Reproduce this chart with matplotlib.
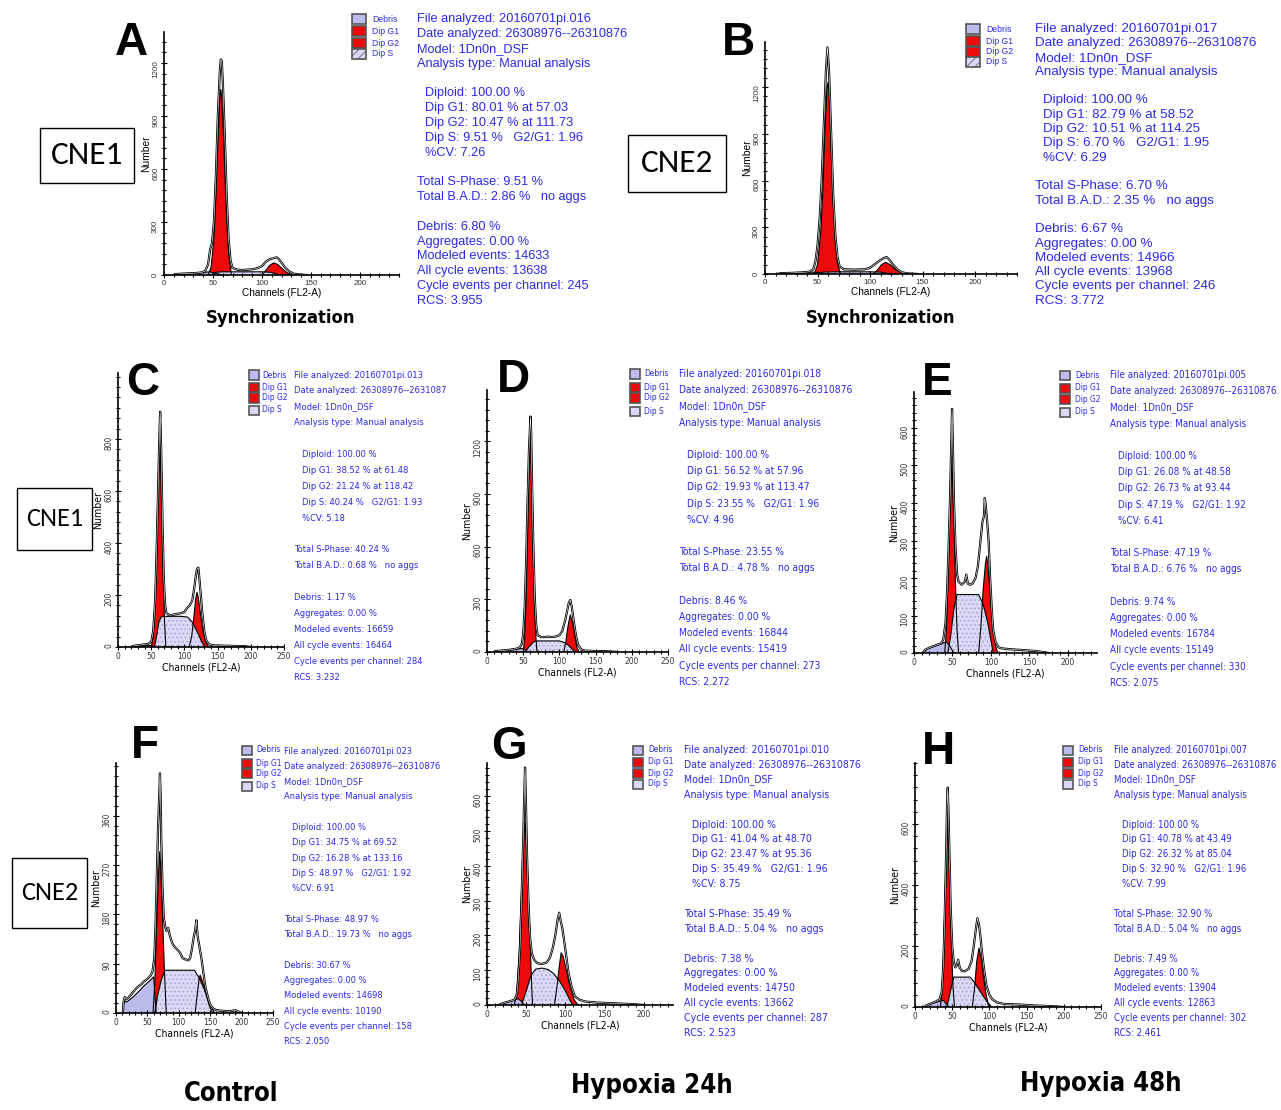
import matplotlib
matplotlib.use("Agg")
import matplotlib.pyplot as plt
from matplotlib.patches import Rectangle
from matplotlib.ticker import MultipleLocator, FixedLocator
from matplotlib import font_manager
from matplotlib.font_manager import FontProperties

W, H = 1281, 1110

# --- Histogram data: (channel, count) ---
# A: CNE1 synchronization
A_ENV = [(10, 0), (12, 5), (20, 8), (30, 10), (38, 14), (42, 22), (45, 60), (47, 140), (49, 180), (51, 300),
         (53, 560), (55, 900), (57, 1150), (58, 1220), (59, 1210), (60, 1100), (62, 800), (64, 450), (66, 200),
         (68, 80), (70, 40), (75, 30), (80, 28), (85, 30), (90, 32), (95, 38), (100, 50), (104, 75), (108, 90),
         (112, 95), (115, 100), (117, 92), (120, 70), (124, 40), (128, 20), (132, 8), (138, 3), (145, 0)]
A_G1 = [(45, 0), (48, 40), (51, 200), (53, 450), (55, 750), (57, 1000), (58, 1050), (59, 1000), (61, 760),
        (63, 450), (65, 200), (67, 70), (69, 0)]
A_G2 = [(100, 0), (104, 25), (108, 55), (112, 68), (116, 60), (120, 40), (125, 15), (131, 0)]
A_S = [(48, 0), (52, 15), (60, 18), (80, 18), (100, 18), (110, 15), (118, 0)]
A_DEB = [(12, 0), (20, 6), (30, 10), (40, 15), (47, 18), (52, 10), (60, 0)]

# B: CNE2 synchronization
B_ENV = [(12, 0), (15, 5), (25, 7), (35, 10), (42, 14), (46, 30), (48, 80), (50, 180), (52, 350), (54, 600),
         (56, 950), (58, 1300), (59.5, 1455), (61, 1300), (63, 900), (65, 500), (67, 250), (69, 110), (71, 50),
         (75, 30), (85, 28), (95, 30), (100, 40), (105, 65), (110, 90), (114, 105), (116, 108), (118, 95),
         (122, 60), (126, 30), (130, 12), (135, 4), (145, 0)]
B_G1 = [(47, 0), (50, 60), (53, 260), (55, 520), (57, 900), (59, 1200), (60, 1230), (61, 1150), (63, 800),
        (65, 450), (67, 200), (69, 70), (72, 0)]
B_G2 = [(103, 0), (107, 25), (111, 60), (115, 75), (119, 60), (124, 30), (129, 10), (134, 0)]
B_S = [(50, 0), (55, 12), (70, 14), (100, 14), (110, 12), (120, 0)]
B_DEB = [(14, 0), (25, 5), (35, 8), (45, 12), (50, 10), (56, 0)]

# C: CNE1 control
C_ENV = [(20, 0), (25, 5), (35, 8), (45, 12), (50, 20), (53, 60), (56, 180), (58, 350), (60, 560), (62, 780),
         (63.5, 905), (65, 760), (67, 480), (69, 260), (71, 160), (73, 130), (78, 122), (85, 125), (90, 128),
         (95, 130), (100, 135), (104, 150), (108, 160), (112, 180), (115, 230), (117, 270), (119, 300),
         (121, 305), (123, 250), (125, 190), (127, 130), (130, 60), (133, 25), (137, 10), (145, 6), (160, 5),
         (175, 4), (190, 3), (200, 0)]
C_G1 = [(50, 0), (53, 40), (56, 180), (58, 370), (60, 580), (62, 740), (63, 780), (64, 720), (66, 500),
        (68, 270), (70, 100), (72, 0)]
C_G2 = [(107, 0), (111, 40), (114, 110), (117, 185), (119, 210), (121, 190), (124, 130), (128, 60),
        (132, 20), (136, 0)]
C_S = [(55, 0), (58, 40), (62, 100), (66, 118), (80, 118), (95, 118), (105, 115), (112, 95), (120, 55),
       (126, 20), (131, 0)]
C_DEB = [(20, 0), (30, 3), (40, 5), (50, 6), (55, 0)]

# D: CNE1 hypoxia 24h
D_ENV = [(10, 0), (12, 5), (20, 8), (30, 12), (40, 18), (45, 25), (48, 45), (50, 100), (52, 250), (54, 500),
         (56, 850), (58, 1150), (60, 1340), (61, 1250), (62, 1000), (64, 600), (66, 300), (68, 150), (70, 95),
         (75, 85), (80, 85), (85, 87), (90, 85), (95, 88), (100, 95), (104, 120), (108, 180), (111, 240),
         (113, 280), (115, 296), (117, 260), (120, 170), (123, 90), (126, 40), (130, 15), (135, 8), (150, 5),
         (165, 4), (180, 0)]
D_G1 = [(50, 0), (52, 80), (54, 300), (56, 650), (58, 1050), (59.5, 1300), (61, 1100), (63, 700), (65, 330),
        (67, 120), (69, 0)]
D_G2 = [(106, 0), (109, 60), (112, 150), (115, 211), (118, 170), (121, 100), (124, 30), (127, 0)]
D_S = [(53, 0), (58, 30), (65, 60), (70, 63), (90, 63), (100, 63), (106, 55), (112, 40), (118, 15), (122, 0)]
D_DEB = [(10, 0), (20, 6), (30, 10), (40, 15), (48, 20), (52, 15), (56, 0)]

# E: CNE1 hypoxia 48h
E_ENV = [(12, 0), (14, 8), (20, 14), (25, 18), (30, 22), (35, 25), (38, 35), (41, 80), (43, 160), (45, 280),
         (47, 420), (48.5, 560), (49.5, 651), (50.5, 560), (52, 400), (54, 280), (56, 210), (58, 190),
         (62, 182), (66, 190), (68, 209), (70, 185), (73, 182), (76, 185), (80, 200), (83, 230), (86, 290),
         (89, 350), (91, 365), (92, 413), (93, 400), (95, 355), (97, 300), (99, 200), (101, 120), (103, 60),
         (106, 30), (110, 15), (115, 12), (125, 10), (140, 8), (160, 5), (175, 0)]
E_G1 = [(40, 0), (42, 60), (44, 180), (46, 330), (48, 470), (49, 500), (50, 470), (52, 330), (54, 180),
        (56, 60), (58, 0)]
E_G2 = [(84, 0), (87, 70), (90, 170), (93, 240), (94.5, 258), (96, 235), (99, 160), (102, 80), (106, 20),
        (109, 0)]
E_S = [(44, 0), (48, 50), (52, 120), (56, 156), (70, 156), (84, 156), (90, 130), (96, 80), (100, 35), (103, 0)]
E_DEB = [(13, 0), (16, 10), (25, 17), (35, 24), (42, 30), (46, 20), (52, 0)]

# F: CNE2 control
F_ENV = [(11, 0), (12, 20), (14, 29), (16, 25), (20, 28), (25, 35), (30, 42), (35, 48), (40, 52), (45, 58),
         (50, 62), (55, 68), (58, 75), (61, 100), (63, 160), (65, 250), (67, 340), (69, 400), (70, 437),
         (71, 400), (72, 320), (74, 230), (76, 175), (78, 160), (80, 150), (83, 155), (86, 140), (90, 126),
         (94, 120), (98, 115), (102, 110), (106, 100), (110, 98), (115, 96), (118, 100), (121, 118), (124, 140),
         (126, 150), (128, 169), (130, 140), (133, 120), (136, 100), (139, 75), (142, 50), (146, 30), (150, 15),
         (155, 8), (160, 5), (170, 4), (180, 3), (190, 5), (200, 0)]
F_G1 = [(59, 0), (62, 60), (65, 170), (68, 260), (69.5, 294), (71, 270), (74, 180), (77, 80), (80, 0)]
F_G2 = [(126, 0), (129, 30), (132, 60), (134, 69), (137, 60), (142, 40), (148, 15), (154, 0)]
F_S = [(62, 0), (66, 30), (72, 60), (78, 78), (100, 78), (125, 78), (132, 65), (140, 45), (148, 20), (157, 0)]
F_DEB = [(11, 0), (12, 15), (14, 22), (17, 20), (25, 27), (35, 38), (45, 50), (55, 60), (60, 66), (64, 0)]

# G: CNE2 hypoxia 24h
G_ENV = [(15, 0), (20, 5), (28, 10), (35, 15), (38, 30), (40, 80), (42, 160), (44, 300), (46, 460),
         (47.5, 600), (48.5, 682), (49.5, 590), (51, 430), (53, 280), (55, 190), (57, 150), (60, 130), (64, 120),
         (70, 118), (76, 122), (80, 135), (84, 165), (87, 200), (90, 245), (92, 265), (94, 240), (96, 220),
         (98, 190), (101, 140), (104, 90), (108, 50), (112, 25), (118, 15), (125, 10), (140, 7), (160, 5),
         (180, 3), (200, 0)]
G_G1 = [(35, 0), (38, 40), (41, 150), (44, 330), (47, 480), (48.5, 525), (50, 470), (53, 300), (55, 170),
        (57, 50), (58, 0)]
G_G2 = [(86, 0), (89, 50), (92, 110), (94.5, 150), (97, 140), (101, 100), (106, 50), (111, 15), (116, 0)]
G_S = [(44, 0), (50, 40), (56, 85), (62, 103), (70, 106), (78, 102), (85, 90), (92, 70), (100, 40), (106, 12),
       (109, 0)]
G_DEB = [(15, 0), (20, 5), (28, 10), (35, 15), (40, 18), (44, 10), (48, 0)]

# H: CNE2 hypoxia 48h
H_ENV = [(12, 0), (15, 5), (22, 12), (28, 18), (33, 25), (36, 50), (38, 130), (40, 300), (42, 520), (43, 650),
         (44, 719), (45, 640), (46.5, 480), (48, 320), (50, 200), (52, 150), (54, 130), (56, 135), (58, 155),
         (60, 130), (63, 118), (67, 117), (72, 125), (76, 150), (79, 200), (82, 260), (84, 291), (86, 270),
         (88, 230), (90, 180), (93, 120), (96, 70), (100, 40), (104, 25), (110, 15), (120, 10), (140, 8),
         (160, 5), (180, 3), (200, 0)]
H_G1 = [(34, 0), (36, 40), (38, 150), (40, 330), (42, 500), (43.5, 585), (45, 530), (47, 360), (49, 200),
        (51, 70), (53, 0)]
H_G2 = [(77, 0), (80, 60), (83, 150), (86, 193), (89, 160), (92, 100), (95, 50), (99, 0)]
H_S = [(43, 0), (47, 45), (52, 98), (60, 98), (74, 98), (80, 80), (88, 50), (96, 20), (103, 0)]
H_DEB = [(12, 0), (18, 8), (25, 13), (32, 18), (38, 22), (42, 10), (46, 0)]

# --- ModFit report text ---
A_STATS = ["File analyzed: 20160701pi.016", "Date analyzed: 26308976--26310876", "Model: 1Dn0n_DSF",
           "Analysis type: Manual analysis", "", "Diploid: 100.00 %", "Dip G1: 80.01 % at 57.03",
           "Dip G2: 10.47 % at 111.73", "Dip S: 9.51 %   G2/G1: 1.96", "%CV: 7.26", "",
           "Total S-Phase: 9.51 %", "Total B.A.D.: 2.86 %   no aggs", "", "Debris: 6.80 %",
           "Aggregates: 0.00 %", "Modeled events: 14633", "All cycle events: 13638",
           "Cycle events per channel: 245", "RCS: 3.955"]
B_STATS = ["File analyzed: 20160701pi.017", "Date analyzed: 26308976--26310876", "Model: 1Dn0n_DSF",
           "Analysis type: Manual analysis", "", "Diploid: 100.00 %", "Dip G1: 82.79 % at 58.52",
           "Dip G2: 10.51 % at 114.25", "Dip S: 6.70 %   G2/G1: 1.95", "%CV: 6.29", "",
           "Total S-Phase: 6.70 %", "Total B.A.D.: 2.35 %   no aggs", "", "Debris: 6.67 %",
           "Aggregates: 0.00 %", "Modeled events: 14966", "All cycle events: 13968",
           "Cycle events per channel: 246", "RCS: 3.772"]
C_STATS = ["File analyzed: 20160701pi.013", "Date analyzed: 26308976--2631087", "Model: 1Dn0n_DSF",
           "Analysis type: Manual analysis", "", "Diploid: 100.00 %", "Dip G1: 38.52 % at 61.48",
           "Dip G2: 21.24 % at 118.42", "Dip S: 40.24 %   G2/G1: 1.93", "%CV: 5.18", "",
           "Total S-Phase: 40.24 %", "Total B.A.D.: 0.68 %   no aggs", "", "Debris: 1.17 %",
           "Aggregates: 0.00 %", "Modeled events: 16659", "All cycle events: 16464",
           "Cycle events per channel: 284", "RCS: 3.232"]
D_STATS = ["File analyzed: 20160701pi.018", "Date analyzed: 26308976--26310876", "Model: 1Dn0n_DSF",
           "Analysis type: Manual analysis", "", "Diploid: 100.00 %", "Dip G1: 56.52 % at 57.96",
           "Dip G2: 19.93 % at 113.47", "Dip S: 23.55 %   G2/G1: 1.96", "%CV: 4.96", "",
           "Total S-Phase: 23.55 %", "Total B.A.D.: 4.78 %   no aggs", "", "Debris: 8.46 %",
           "Aggregates: 0.00 %", "Modeled events: 16844", "All cycle events: 15419",
           "Cycle events per channel: 273", "RCS: 2.272"]
E_STATS = ["File analyzed: 20160701pi.005", "Date analyzed: 26308976--26310876", "Model: 1Dn0n_DSF",
           "Analysis type: Manual analysis", "", "Diploid: 100.00 %", "Dip G1: 26.08 % at 48.58",
           "Dip G2: 26.73 % at 93.44", "Dip S: 47.19 %   G2/G1: 1.92", "%CV: 6.41", "",
           "Total S-Phase: 47.19 %", "Total B.A.D.: 6.76 %   no aggs", "", "Debris: 9.74 %",
           "Aggregates: 0.00 %", "Modeled events: 16784", "All cycle events: 15149",
           "Cycle events per channel: 330", "RCS: 2.075"]
F_STATS = ["File analyzed: 20160701pi.023", "Date analyzed: 26308976--26310876", "Model: 1Dn0n_DSF",
           "Analysis type: Manual analysis", "", "Diploid: 100.00 %", "Dip G1: 34.75 % at 69.52",
           "Dip G2: 16.28 % at 133.16", "Dip S: 48.97 %   G2/G1: 1.92", "%CV: 6.91", "",
           "Total S-Phase: 48.97 %", "Total B.A.D.: 19.73 %   no aggs", "", "Debris: 30.67 %",
           "Aggregates: 0.00 %", "Modeled events: 14698", "All cycle events: 10190",
           "Cycle events per channel: 158", "RCS: 2.050"]
G_STATS = ["File analyzed: 20160701pi.010", "Date analyzed: 26308976--26310876", "Model: 1Dn0n_DSF",
           "Analysis type: Manual analysis", "", "Diploid: 100.00 %", "Dip G1: 41.04 % at 48.70",
           "Dip G2: 23.47 % at 95.36", "Dip S: 35.49 %   G2/G1: 1.96", "%CV: 8.75", "",
           "Total S-Phase: 35.49 %", "Total B.A.D.: 5.04 %   no aggs", "", "Debris: 7.38 %",
           "Aggregates: 0.00 %", "Modeled events: 14750", "All cycle events: 13662",
           "Cycle events per channel: 287", "RCS: 2.523"]
H_STATS = ["File analyzed: 20160701pi.007", "Date analyzed: 26308976--26310876", "Model: 1Dn0n_DSF",
           "Analysis type: Manual analysis", "", "Diploid: 100.00 %", "Dip G1: 40.78 % at 43.49",
           "Dip G2: 26.32 % at 85.04", "Dip S: 32.90 %   G2/G1: 1.96", "%CV: 7.99", "",
           "Total S-Phase: 32.90 %", "Total B.A.D.: 5.04 %   no aggs", "", "Debris: 7.49 %",
           "Aggregates: 0.00 %", "Modeled events: 13904", "All cycle events: 12863",
           "Cycle events per channel: 302", "RCS: 2.461"]

LEGEND_LABELS = ["Debris", "Dip G1", "Dip G2", "Dip S"]
Y_TICKS = {"A": [0, 300, 600, 900, 1200], "B": [0, 300, 600, 900, 1200], "C": [0, 200, 400, 600, 800],
           "D": [0, 300, 600, 900, 1200], "E": [0, 100, 200, 300, 400, 500, 600], "F": [0, 90, 180, 270, 360],
           "G": [0, 100, 200, 300, 400, 500, 600], "H": [0, 200, 400, 600]}

# colours
RED = "#ee0a0a"
DEBRIS = "#bcbcec"
SPHASE = "#d9d9f5"
BLUE = "#2a2ae8"


def condensed_font(bold):
    # look for an installed narrow / condensed face, otherwise fall back to Liberation Sans
    want = 700 if bold else 400
    best, best_score = None, None
    for f in font_manager.fontManager.ttflist:
        st = f.stretch if isinstance(f.stretch, int) else font_manager.stretch_dict.get(f.stretch, 500)
        wt = f.weight if isinstance(f.weight, int) else font_manager.weight_dict.get(f.weight, 400)
        name = f.name.lower()
        if "narrow" in name or "condensed" in name:
            st = min(st, 300)
        if st >= 500 or f.style != "normal" or abs(wt - want) > 100 or "mono" in name or "cjk" in name:
            continue
        score = abs(st - 300) + abs(wt - want) / 10 + (0 if "liberation" in name else 5)
        if best_score is None or score < best_score:
            best, best_score = f.fname, score
    return best


NARROW_FILE = condensed_font(False)
NARROW_BOLD_FILE = condensed_font(True)
ARIAL = "Liberation Sans"
CALIBRI = "Carlito" if any(f.name == "Carlito" for f in font_manager.fontManager.ttflist) else "Lato"


def narrow(size, bold=False):
    path = NARROW_BOLD_FILE if bold else NARROW_FILE
    if path:
        return FontProperties(fname=path, size=size)
    return FontProperties(family=ARIAL, size=size, weight="bold" if bold else "normal")


def regular(size):
    return FontProperties(family=ARIAL, size=size)


# layout in pixels: axis box, limits, report text position (+ width of the
# "Cycle events per channel" line), legend position, panel letter
LAYOUT = {
    "A": dict(x0=164, xe=399, yb=275, yt=32, xmax=240, ymax=1375, ymin=60, tx=417, ty=19, dy=14.84,
              ts=9.2, tw=None, nar=False, bx=352, lx=372, ly=[19, 31, 43, 54], lab=(131, 43), ls=6.2, tick=5.8),
    "B": dict(x0=765, xe=1017, yb=274, yt=42, xmax=240, ymax=1490, ymin=60, tx=1035, ty=29, dy=14.3,
              ts=9.6, tw=None, nar=False, bx=966, lx=986, ly=[29, 41, 52, 62], lab=(738, 43), ls=6.2, tick=5.8),
    "C": dict(x0=118, xe=284, yb=647, yt=373, xmax=250, ymax=1054, ymin=40, tx=294, ty=375, dy=15.9,
              ts=7.8, tw=130, nar=True, bx=249, lx=262, ly=[375, 387, 398, 410], lab=(143, 383), ls=6.0, tick=6.0),
    "D": dict(x0=487, xe=668, yb=652, yt=390, xmax=250, ymax=1491, ymin=60, tx=679, ty=374, dy=16.2,
              ts=8.5, tw=142, nar=True, bx=630, lx=644, ly=[374, 387, 398, 411], lab=(513, 380), ls=6.0, tick=6.0),
    "E": dict(x0=914, xe=1097, yb=653, yt=392, xmax=238, ymax=696, ymin=20, tx=1110, ty=375, dy=16.2,
              ts=8.7, tw=136, nar=True, bx=1060, lx=1075, ly=[376, 388, 400, 412], lab=(937, 383), ls=6.0,
              tick=6.0),
    "F": dict(x0=116, xe=273, yb=1013, yt=763, xmax=250, ymax=456, ymin=18, tx=284, ty=751, dy=15.3,
              ts=7.6, tw=126, nar=True, bx=242, lx=256, ly=[750, 763, 773, 786], lab=(145, 746), ls=6.0, tick=6.0),
    "G": dict(x0=487, xe=673, yb=1005, yt=763, xmax=237, ymax=695, ymin=20, tx=684, ty=750, dy=14.9,
              ts=8.7, tw=145, nar=True, bx=633, lx=648, ly=[750, 762, 773, 784], lab=(509, 747), ls=6.0, tick=6.0),
    "H": dict(x0=915, xe=1101, yb=1007, yt=763, xmax=250, ymax=800, ymin=40, tx=1114, ty=750, dy=14.9,
              ts=8.9, tw=132, nar=True, bx=1063, lx=1078, ly=[750, 762, 773, 784], lab=(938, 752), ls=6.0,
              tick=6.0),
}

PANELS = [("A", A_ENV, A_G1, A_G2, A_S, A_DEB, A_STATS), ("B", B_ENV, B_G1, B_G2, B_S, B_DEB, B_STATS),
          ("C", C_ENV, C_G1, C_G2, C_S, C_DEB, C_STATS), ("D", D_ENV, D_G1, D_G2, D_S, D_DEB, D_STATS),
          ("E", E_ENV, E_G1, E_G2, E_S, E_DEB, E_STATS), ("F", F_ENV, F_G1, F_G2, F_S, F_DEB, F_STATS),
          ("G", G_ENV, G_G1, G_G2, G_S, G_DEB, G_STATS), ("H", H_ENV, H_G1, H_G2, H_S, H_DEB, H_STATS)]

plt.rcParams["hatch.linewidth"] = 0.5
fig = plt.figure(figsize=(W / 100, H / 100), dpi=100)
renderer = fig.canvas.get_renderer()


def fx(x):
    return x / W


def fy(y):
    return 1 - y / H


def xy(points):
    return [p[0] for p in points], [p[1] for p in points]


def fit_width(t, target):
    # scale a text so that it is as wide as in the reference
    w = t.get_window_extent(renderer).width
    t.set_fontsize(t.get_fontsize() * target / w)
    return t.get_fontsize()


def shape(ax, points, fc, hatch=None):
    xs, ys = xy(points)
    ax.fill(xs, ys, facecolor=fc, edgecolor="#9c9cd4" if hatch else fc, hatch=hatch, lw=0)
    ax.plot(xs, ys, color="black", lw=0.8)


for key, env, g1, g2, s, deb, stats in PANELS:
    L = LAYOUT[key]
    font = narrow if L["nar"] else regular
    ax = fig.add_axes([fx(L["x0"]), fy(L["yb"]), (L["xe"] - L["x0"]) / W, (L["yb"] - L["yt"]) / H])
    ax.set_xlim(0, L["xmax"])
    ax.set_ylim(0, L["ymax"])
    ax.patch.set_alpha(0)

    # red peaks first, debris and S-phase on top, measured histogram last
    shape(ax, g1, RED)
    shape(ax, g2, RED)
    shape(ax, deb, DEBRIS)
    shape(ax, s, SPHASE, hatch="////" if key in "AB" else "....")
    ex, ey = xy(env)
    ax.plot(ex, ey, color="black", lw=1.6)
    ax.plot(ex, ey, color="white", lw=0.4)

    for sp in ["top", "right"]:
        ax.spines[sp].set_visible(False)
    for sp in ["left", "bottom"]:
        ax.spines[sp].set_linewidth(1.2)
    ax.xaxis.set_major_locator(MultipleLocator(50))
    ax.xaxis.set_minor_locator(MultipleLocator(10))
    ax.yaxis.set_major_locator(FixedLocator(Y_TICKS[key]))
    ax.yaxis.set_minor_locator(MultipleLocator(L["ymin"]))
    ax.tick_params(which="both", direction="inout", width=0.8, pad=1, labelcolor="#333333")
    ax.tick_params(which="major", length=5)
    ax.tick_params(which="minor", length=3)
    ax.tick_params(axis="y", labelrotation=90)
    for lab in ax.get_xticklabels() + ax.get_yticklabels():
        lab.set_fontproperties(font(L["tick"]))
    ax.set_xlabel("Channels (FL2-A)", fontproperties=font(L["tick"] + 1.4), labelpad=1)
    ax.set_ylabel("Number", fontproperties=font(L["tick"] + 1.6), labelpad=1)

    # report text, sized from the width of the "Cycle events per channel" line
    size = L["ts"]
    if L["tw"]:
        probe = fig.text(0, 0, stats[18], fontproperties=font(size))
        size = fit_width(probe, L["tw"])
        probe.remove()
    for i, line in enumerate(stats):
        if not line:
            continue
        indent = 8 if line.startswith(("Dip", "%CV")) else 0
        fig.text(fx(L["tx"] + indent), fy(L["ty"] + i * L["dy"]), line, fontproperties=font(size),
                 color=BLUE, ha="left", va="center")

    # legend boxes
    fills = [DEBRIS, RED, RED, SPHASE]
    for j, (label, yy) in enumerate(zip(LEGEND_LABELS, L["ly"])):
        bw, bh = (14, 9) if key in "AB" else (10, 9)
        fig.add_artist(Rectangle((fx(L["bx"]), fy(yy + bh / 2)), bw / W, bh / H, transform=fig.transFigure,
                                 facecolor=fills[j], edgecolor="#555555", lw=1.2,
                                 hatch="////" if (j == 3 and key in "AB") else None))
        fig.text(fx(L["lx"]), fy(yy), label, fontproperties=font(L["ls"]), color=BLUE, ha="left", va="center")

    fig.text(fx(L["lab"][0]), fy(L["lab"][1]), key, fontsize=33, fontweight="bold", family=ARIAL,
             ha="center", va="center")

# cell line boxes
for label, (x1, y1, x2, y2), size in [("CNE1", (40, 128, 134, 183), 24), ("CNE2", (628, 135, 726, 192), 24),
                                      ("CNE1", (17, 488, 92, 550), 19), ("CNE2", (12, 858, 87, 928), 19)]:
    fig.add_artist(Rectangle((fx(x1), fy(y2)), (x2 - x1) / W, (y2 - y1) / H, transform=fig.transFigure,
                             facecolor="white", edgecolor="black", lw=1.0))
    fig.text(fx((x1 + x2) / 2), fy((y1 + y2) / 2), label, fontsize=size, family=CALIBRI, ha="center", va="center")

# condition labels, fitted to the reference widths
for label, (x, y), width in [("Synchronization", (281, 318), 150), ("Synchronization", (881, 318), 150),
                             ("Control", (231, 1094), 95), ("Hypoxia 24h", (652, 1086), 162),
                             ("Hypoxia 48h", (1101, 1084), 162)]:
    t = fig.text(fx(x), fy(y), label, fontproperties=narrow(18, bold=True), ha="center", va="center")
    fit_width(t, width)

fig.savefig("out.png", dpi=100)
